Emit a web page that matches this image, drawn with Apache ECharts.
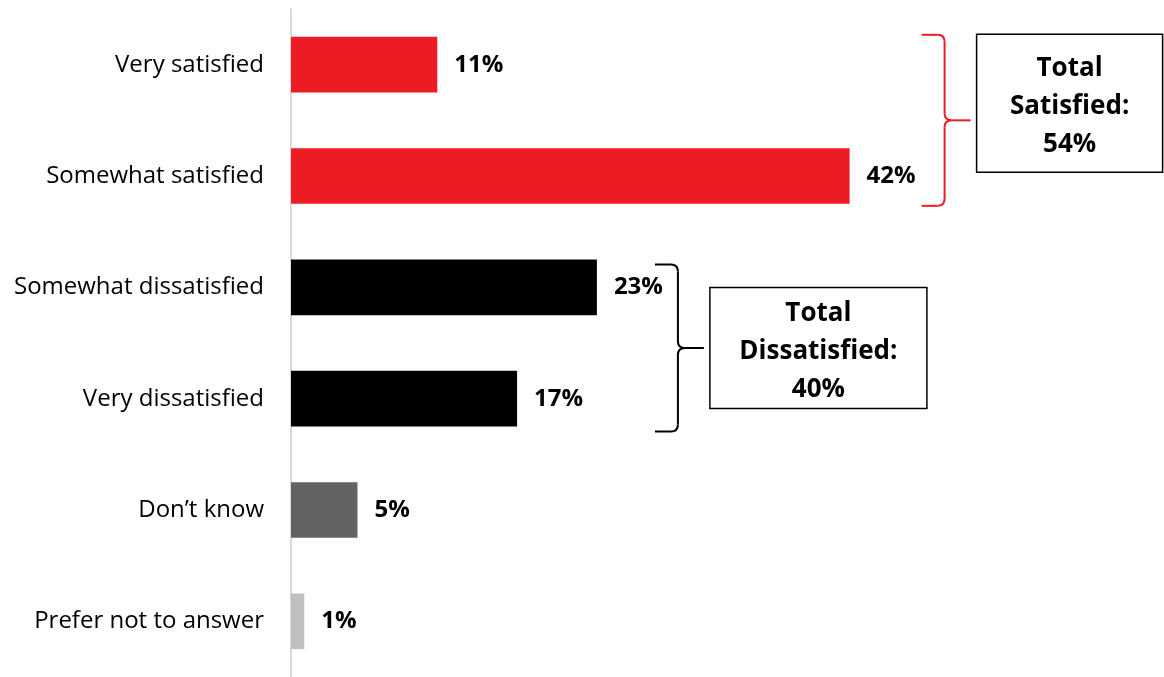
<!DOCTYPE html>
<html>
<head>
<meta charset="utf-8">
<script src="https://cdn.jsdelivr.net/npm/echarts@6/dist/echarts.min.js"></script>
<style>
  html, body { margin: 0; padding: 0; background: #fff; }
  #chart { width: 1164px; height: 677px; }
</style>
</head>
<body>
<div id="chart"></div>
<script>
// Survey responses, top to bottom
const categories = ['Very satisfied', 'Somewhat satisfied', 'Somewhat dissatisfied', 'Very dissatisfied', 'Don\u2019t know', 'Prefer not to answer'];
const values = [11, 42, 23, 17, 5, 1];
const barColors = ['#ED1C24', '#ED1C24', '#000000', '#000000', '#636363', '#BFBFBF'];

// Grouped totals shown beside the braces
const groupTitles = [['Total', 'Satisfied:'], ['Total', 'Dissatisfied:']];
const groupTotals = [54, 40];
const groupMembers = [[0, 1], [2, 3]];
const groupColors = ['#ED1C24', '#000000'];

// Brace / box layout per group
const braceGap = [72, 58];        // from bar end to open end of brace
const braceShift = [[-2, 2], [5, 5]];
const boxSize = [[186, 138], [217, 121]];
const boxShift = [-17, 0];        // box centre relative to brace tip

const FONT = '"Open Sans", sans-serif';

const chart = echarts.init(document.getElementById('chart'), null, { renderer: 'canvas' });

chart.setOption({
  animation: false,
  backgroundColor: '#ffffff',
  grid: { left: 291, top: 9, height: 670, width: 798, containLabel: false },
  xAxis: {
    type: 'value', min: 0, max: 60,
    show: false
  },
  yAxis: {
    type: 'category',
    data: categories,
    inverse: true,
    axisLine: { show: true, lineStyle: { color: '#D9D9D9', width: 2 } },
    axisTick: { show: false },
    axisLabel: { margin: 27, fontSize: 24, color: '#000', fontFamily: FONT }
  },
  series: [{
    type: 'bar',
    barWidth: '50%',
    data: values.map((v, i) => ({ value: v, itemStyle: { color: barColors[i] } })),
    label: {
      show: true, position: 'right', distance: 17,
      formatter: p => p.value + '%',
      fontSize: 24, fontWeight: 'bold', color: '#000', fontFamily: FONT
    }
  }]
});

// Braces and total boxes, placed from the bars they group
function drawGroups() {
  const yAxisModel = chart.getModel().getComponent('yAxis', 0);
  const band = yAxisModel.axis.getBandWidth();
  const half = band * 0.25;
  const elements = [];
  groupMembers.forEach((members, g) => {
    const vals = members.map(i => values[i]);
    const maxVal = Math.max.apply(null, vals);
    const xEnd = chart.convertToPixel({ gridIndex: 0 }, [maxVal, 0])[0];
    const yTop = chart.convertToPixel({ yAxisIndex: 0 }, members[0]) - half + braceShift[g][0];
    const yBot = chart.convertToPixel({ yAxisIndex: 0 }, members[members.length - 1]) + half + braceShift[g][1];
    const yMid = (yTop + yBot) / 2;
    const x0 = xEnd + braceGap[g];   // open end of brace
    const xv = x0 + 23;              // vertical spine
    const xt = xv + 26;              // tip
    const r = 7;
    const stroke = { stroke: groupColors[g], lineWidth: 2, fill: null };
    const seg = (x1, y1, x2, y2) => ({ type: 'line', shape: { x1, y1, x2, y2 }, style: stroke });
    const curve = (x1, y1, cx, cy, x2, y2) => ({
      type: 'bezierCurve',
      shape: { x1, y1, cpx1: cx, cpy1: cy, x2, y2 },
      style: stroke
    });
    elements.push(
      seg(x0, yTop, xv - r, yTop),
      curve(xv - r, yTop, xv, yTop, xv, yTop + r),
      seg(xv, yTop + r, xv, yMid - r),
      curve(xv, yMid - r, xv, yMid, xv + r, yMid),
      seg(xv + r, yMid, xt, yMid),
      curve(xv + r, yMid, xv, yMid, xv, yMid + r),
      seg(xv, yMid + r, xv, yBot - r),
      curve(xv, yBot - r, xv, yBot, xv - r, yBot),
      seg(xv - r, yBot, x0, yBot)
    );
    const lines = groupTitles[g].concat([groupTotals[g] + '%']);
    const lh = 38;
    const boxW = boxSize[g][0];
    const boxH = boxSize[g][1];
    const cy = yMid + boxShift[g];
    const bx = xt + 6;
    const by = cy - boxH / 2;
    elements.push({
      type: 'rect',
      shape: { x: bx, y: by, width: boxW, height: boxH },
      style: { fill: '#fff', stroke: '#000', lineWidth: 1.5 }
    });
    lines.forEach((t, k) => {
      elements.push({
        type: 'text',
        x: bx + boxW / 2,
        y: cy + 3.5 + (k - (lines.length - 1) / 2) * lh,
        style: {
          text: t, fill: '#000', fontSize: 26, fontWeight: 'bold', fontFamily: FONT,
          align: 'center', verticalAlign: 'middle'
        }
      });
    });
  });
  chart.setOption({ graphic: { elements: elements } });
}
drawGroups();
</script>
</body>
</html>
